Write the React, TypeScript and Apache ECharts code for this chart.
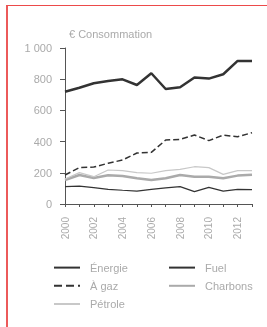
import React, { useEffect, useRef } from "react";
import * as echarts from "echarts";

const years = ["2000","2001","2002","2003","2004","2005","2006","2007","2008","2009","2010","2011","2012","2013"];
const yTicks = [0, 200, 400, 600, 800, 1000];
const titleText = "€ Consommation";
const names = ["Énergie", "Fuel", "À gaz", "Charbons", "Pétrole"];
const s1 = [720, 745, 774, 788, 799, 763, 838, 737, 748, 811, 804, 832, 917, 917];
const s2 = [186, 233, 237, 261, 282, 327, 331, 410, 414, 442, 406, 442, 431, 457];
const s3 = [111, 115, 105, 94, 88, 83, 94, 103, 111, 79, 107, 83, 94, 92];
const s4 = [154, 186, 167, 184, 179, 165, 154, 165, 186, 175, 175, 165, 182, 188];
const s5 = [160, 201, 175, 218, 214, 201, 197, 214, 222, 239, 233, 190, 214, 214];

export default function App() {
  const ref = useRef<HTMLDivElement>(null);
  useEffect(() => {
    const chart = echarts.init(ref.current!, null, { renderer: "svg" });
    const mk = (name: string, data: number[], color: string, width: number, type: any = "solid") => ({
      name, type: "line", data, symbol: "none", showSymbol: false,
      lineStyle: { color, width, type }, itemStyle: { color },
    });
    const legendBase = {
      orient: "vertical", top: 257, itemWidth: 26, itemHeight: 14, itemGap: 7,
      itemStyle: { opacity: 0 },
      textStyle: { color: "#aaa", fontSize: 11, padding: [0, 0, 0, 5], fontFamily: "Liberation Sans" },
    };
    chart.setOption({
      animation: false,
      title: {
        text: titleText, left: 64, top: 23,
        textStyle: { fontSize: 11, fontWeight: "normal", color: "#aaa", fontFamily: "Liberation Sans" },
      },
      grid: { left: 65, top: 48, right: 15, bottom: 123, containLabel: false },
      xAxis: {
        type: "category", data: years, boundaryGap: false,
        axisLine: { lineStyle: { color: "#555", width: 1 } },
        axisTick: { show: true, interval: 0, length: 3, lineStyle: { color: "#555" } },
        axisLabel: { interval: 1, rotate: 90, margin: 13, color: "#aaa", fontSize: 10, fontFamily: "Liberation Sans" },
        splitLine: { show: false },
      },
      yAxis: {
        type: "value", min: yTicks[0], max: yTicks[yTicks.length - 1], interval: 200,
        axisLine: { show: true, lineStyle: { color: "#555", width: 1 } },
        axisTick: { show: true, length: 5, lineStyle: { color: "#555" } },
        axisLabel: {
          margin: 13, color: "#aaa", fontSize: 11, fontFamily: "Liberation Sans",
          formatter: (v: number) => (v >= 1000 ? String(v).replace(/\B(?=(\d{3})+(?!\d))/g, " ") : String(v)),
        },
        splitLine: { show: false },
      },
      legend: [
        { ...legendBase, left: 48, data: [names[0], names[2], names[4]] },
        { ...legendBase, left: 163, data: [names[1], names[3]] },
      ],
      series: [
        mk(names[0], s1, "#333", 2.5),
        mk(names[1], s3, "#333", 1.2),
        mk(names[2], s2, "#333", 1.5, "dashed"),
        mk(names[3], s4, "#aaa", 2.5),
        mk(names[4], s5, "#c8c8c8", 1.2),
      ],
    });
    return () => chart.dispose();
  }, []);
  return (
    <>
      <div style={{ position: "fixed", left: 6, top: 5, width: 300, height: 400, borderLeft: "2px solid #ec5a5a", borderTop: "1px solid #ec4a4a" }} />
      <div ref={ref} style={{ position: "fixed", left: 0, top: 0, width: 267, height: 327 }} />
    </>
  );
}
